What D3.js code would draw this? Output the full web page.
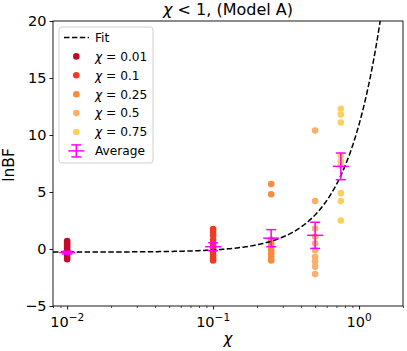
<!DOCTYPE html>
<html><head><meta charset="utf-8">
<script src="https://cdn.jsdelivr.net/npm/d3@7"></script>
<style>
html,body{margin:0;padding:0;background:#fff;}
svg{display:block;font-family:"DejaVu Sans",sans-serif;}
</style></head>
<body><svg id="c" width="407" height="351"></svg>
<script>
// ---- data ----
const chiValues = [0.01, 0.1, 0.25, 0.5, 0.75];
const chiLabels = ["0.01", "0.1", "0.25", "0.5", "0.75"];
const lnBF_001 = [0.7, 0.5, 0.3, 0.1, -0.1, -0.3, -0.5, -0.7, -0.9];
const lnBF_01  = [1.75, 1.5, 1.2, 0.8, 0.4, 0.1, -0.2, -0.5, -0.8, -1.0];
const lnBF_025 = [5.7, 4.8, 0.8, 0.5, 0.2, -0.1, -0.4, -0.7, -1.0];
const lnBF_05  = [10.4, 4.2, 1.8, 1.1, 0.5, -0.1, -0.7, -1.1, -1.55, -2.2];
const lnBF_075 = [12.3, 11.8, 11.1, 8.2, 7.7, 7.3, 4.9, 4.2, 2.5];
const avgValues = [-0.32, 0.2, 0.95, 1.2, 7.25];
const avgErrors = [0.12, 0.35, 0.75, 1.15, 1.17];
const fitParams = [-0.27, 11.2, 1.78]; // a + b * chi^c
const yTicks = [-5, 0, 5, 10, 15, 20];
const xMajorExps = [-2, -1, 0];
const groupColors = ["#c00a2c", "#ee3b23", "#fb8a3c", "#fdae6b", "#fecf5c"];

const groups = [lnBF_001, lnBF_01, lnBF_025, lnBF_05, lnBF_075];

const svg = d3.select("#c");
const L = 53, R = 403, T = 21, B = 306;
const x = d3.scaleLog().domain([0.008, 2]).range([L, R]);
const y = d3.scaleLinear().domain([-5, 20]).range([B, T]);

svg.append("defs").append("clipPath").attr("id","clip")
  .append("rect").attr("x",L).attr("y",T).attr("width",R-L).attr("height",B-T);

const plot = svg.append("g").attr("clip-path","url(#clip)");

// scatter
groups.forEach((vals,i)=>{
  plot.selectAll(null).data(vals).enter().append("circle")
    .attr("cx", x(chiValues[i])).attr("cy", d=>y(d)).attr("r",3.3)
    .attr("fill", groupColors[i]);
});

// fit
const fitX = d3.range(0, 301).map(k => Math.pow(10, Math.log10(0.008) + k*(Math.log10(2)-Math.log10(0.008))/300));
const line = d3.line().x(d=>x(d)).y(d=>y(fitParams[0] + fitParams[1]*Math.pow(d, fitParams[2])));
plot.append("path").datum(fitX).attr("d", line).attr("fill","none")
  .attr("stroke","#000").attr("stroke-width",1.5).attr("stroke-dasharray","5.5,2.4");

// error bars
const mag = "#ff00ff";
chiValues.forEach((c,i)=>{
  const cx = x(c), m = avgValues[i], e = avgErrors[i];
  const g = plot.append("g").attr("stroke", mag).attr("stroke-width",1.5);
  g.append("line").attr("x1",cx).attr("x2",cx).attr("y1",y(m-e)).attr("y2",y(m+e));
  g.append("line").attr("x1",cx-5).attr("x2",cx+5).attr("y1",y(m-e)).attr("y2",y(m-e));
  g.append("line").attr("x1",cx-5).attr("x2",cx+5).attr("y1",y(m+e)).attr("y2",y(m+e));
  g.append("line").attr("x1",cx-8).attr("x2",cx+8).attr("y1",y(m)).attr("y2",y(m));
});

// spines
const sp = svg.append("g").attr("stroke","#000").attr("stroke-width",0.9).attr("fill","none");
sp.append("rect").attr("x",L).attr("y",T).attr("width",R-L).attr("height",B-T);

// y axis
const yAx = svg.append("g").attr("transform",`translate(${L},0)`)
  .call(d3.axisLeft(y).tickValues(yTicks).tickSize(3.5).tickPadding(3)
    .tickFormat(d => d < 0 ? "\u2212" + Math.abs(d) : String(d)));
yAx.select(".domain").remove();
yAx.selectAll("text").attr("font-size","14.5px").attr("fill","#000").attr("font-family","DejaVu Sans");
yAx.selectAll("line").attr("stroke-width",0.9);

// x axis
const minorTicks = [];
[-3,-2,-1,0].forEach(e=>{ for(let k=2;k<=9;k++){ const v=k*Math.pow(10,e); if(v>=0.008&&v<=2) minorTicks.push(v);} });
const xAxMinor = svg.append("g").attr("transform",`translate(0,${B})`)
  .call(d3.axisBottom(x).tickValues(minorTicks).tickSize(2).tickFormat(""));
xAxMinor.select(".domain").remove();
xAxMinor.selectAll("line").attr("stroke-width",0.7);
const xAx = svg.append("g").attr("transform",`translate(0,${B})`)
  .call(d3.axisBottom(x).tickValues(xMajorExps.map(e=>Math.pow(10,e))).tickSize(3.5).tickFormat(""));
xAx.select(".domain").remove();
xAx.selectAll("line").attr("stroke-width",0.9);
xMajorExps.forEach(e=>{
  const t = svg.append("text").attr("x", x(Math.pow(10,e))).attr("y", 326.5)
    .attr("text-anchor","middle").attr("font-size","14.5px");
  t.append("tspan").text("10");
  t.append("tspan").attr("dy",-6).attr("font-size","10.5px").text(e<0 ? "\u2212"+Math.abs(e) : String(e));
});

// labels
svg.append("text").attr("x",(L+R)/2).attr("y",344).attr("text-anchor","middle")
  .attr("font-size","15px").attr("font-style","italic").text("\u03c7");
svg.append("text").attr("transform",`translate(14,165) rotate(-90)`)
  .attr("text-anchor","middle").attr("font-size","15.5px").text("lnBF");

// title
const title = svg.append("text").attr("x",(L+R)/2).attr("y",15).attr("text-anchor","middle").attr("font-size","16px");
title.append("tspan").attr("font-style","italic").text("\u03c7");
title.append("tspan").text(" < 1, (Model A)");

// legend
const lg = svg.append("g");
lg.append("rect").attr("x",59).attr("y",27).attr("width",94).attr("height",136).attr("rx",3)
  .attr("fill","#fff").attr("fill-opacity",0.8).attr("stroke","#ccc").attr("stroke-width",0.9);
const rowY = i => 37.5 + i*18.9;
lg.append("line").attr("x1",64).attr("x2",89).attr("y1",rowY(0)).attr("y2",rowY(0))
  .attr("stroke","#000").attr("stroke-width",1.5).attr("stroke-dasharray","5.5,2.4");
const addText = (i) => lg.append("text").attr("x",95).attr("y",rowY(i)+4.3).attr("font-size","12.2px");
addText(0).text("Fit");
chiLabels.forEach((lab,i)=>{
  lg.append("circle").attr("cx",76.3).attr("cy",rowY(i+1)).attr("r",3.3).attr("fill",groupColors[i]);
  const t = addText(i+1);
  t.append("tspan").attr("font-style","italic").text("\u03c7");
  t.append("tspan").text(" = " + lab);
});
const ay = rowY(6);
const lgE = lg.append("g").attr("stroke",mag).attr("stroke-width",1.5);
lgE.append("line").attr("x1",76.3).attr("x2",76.3).attr("y1",ay-6).attr("y2",ay+6);
lgE.append("line").attr("x1",71.3).attr("x2",81.3).attr("y1",ay-6).attr("y2",ay-6);
lgE.append("line").attr("x1",71.3).attr("x2",81.3).attr("y1",ay+6).attr("y2",ay+6);
lgE.append("line").attr("x1",68.3).attr("x2",84.3).attr("y1",ay).attr("y2",ay);
addText(6).text("Average");
</script></body></html>
